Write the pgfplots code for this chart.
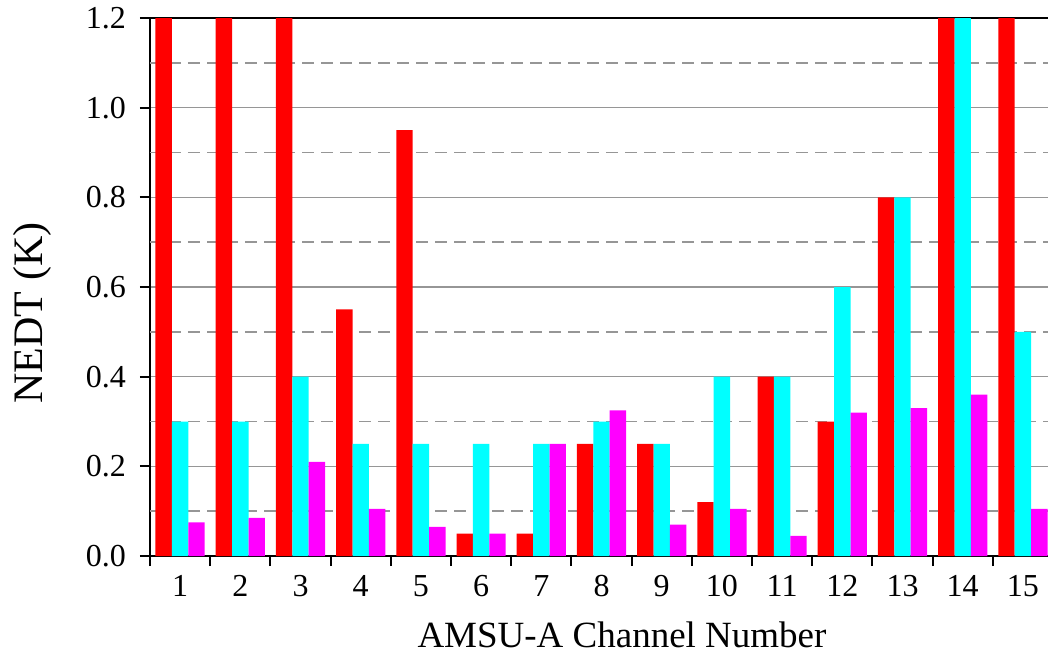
\documentclass[border=0pt]{standalone}
\usepackage{pgfplots}
\pgfplotsset{compat=1.18}
\usepackage{pgfplotstable}
\usepackage{fontspec}
\setmainfont{Liberation Serif}
\definecolor{barred}{RGB}{255,0,0}
\definecolor{barcyan}{RGB}{0,255,255}
\definecolor{barmag}{RGB}{255,0,255}
\definecolor{gridgray}{RGB}{150,150,150}
\pgfplotstableread{
ch red cyan mag
1 1.2 0.3 0.075
2 1.2 0.3 0.085
3 1.2 0.4 0.21
4 0.55 0.25 0.105
5 0.95 0.25 0.065
6 0.05 0.25 0.05
7 0.05 0.25 0.25
8 0.25 0.3 0.325
9 0.25 0.25 0.07
10 0.12 0.4 0.105
11 0.4 0.4 0.045
12 0.3 0.6 0.32
13 0.8 0.8 0.33
14 1.2 1.2 0.36
15 1.2 0.5 0.105
}\datatable
\begin{document}
\begin{tikzpicture}
\begin{axis}[
  at={(0,0)}, anchor=south west,
  scale only axis, width=451.5pt, height=269pt,
  xmin=0.5, xmax=15.5, ymin=0, ymax=1.2,
  axis line style={line width=1.2pt, black},
  tick style={line width=1pt, black},
  tick align=outside, major tick length=5pt,
  xtick={0.5,1.5,...,15.5}, xticklabels={},
  extra x ticks={1,2,...,15},
  extra x tick style={major tick length=0pt, xticklabel style={yshift=-6pt}},
  ytick={0,0.2,...,1.2},
  yticklabels={0.0,0.2,0.4,0.6,0.8,1.0,1.2},
  ytick pos=left, xtick pos=bottom,
  extra y ticks={0.1,0.3,0.5,0.7,0.9,1.1},
  extra y tick labels={},
  extra y tick style={major tick length=0pt, grid=major,
     major grid style={gridgray, line width=0.7pt, dash pattern=on 6pt off 3.5pt}},
  ymajorgrids,
  major grid style={gridgray, line width=0.7pt},
  /pgf/number format/assume math mode=true,
  yticklabel shift=3.5pt,
  ticklabel style={font=\fontsize{16}{19}\selectfont},
  clip=true,
]
\addplot[ybar, bar width=8.2pt, bar shift=-8.2pt, fill=barred, draw=none] table[x=ch, y=red] {\datatable};
\addplot[ybar, bar width=8.2pt, bar shift=0pt, fill=barcyan, draw=none] table[x=ch, y=cyan] {\datatable};
\addplot[ybar, bar width=8.2pt, bar shift=8.2pt, fill=barmag, draw=none] table[x=ch, y=mag] {\datatable};
\end{axis}
\node[anchor=base, font=\fontsize{18.5}{22}\selectfont] at (236pt,-45.5pt) {AMSU-A Channel Number};
\node[anchor=base, rotate=90, font=\fontsize{21}{25}\selectfont] at (-53.5pt,121.5pt) {NEDT (K)};
\pgfresetboundingbox
\useasboundingbox (-75pt,-52.5pt) rectangle (449pt,278pt);
\end{tikzpicture}
\end{document}
